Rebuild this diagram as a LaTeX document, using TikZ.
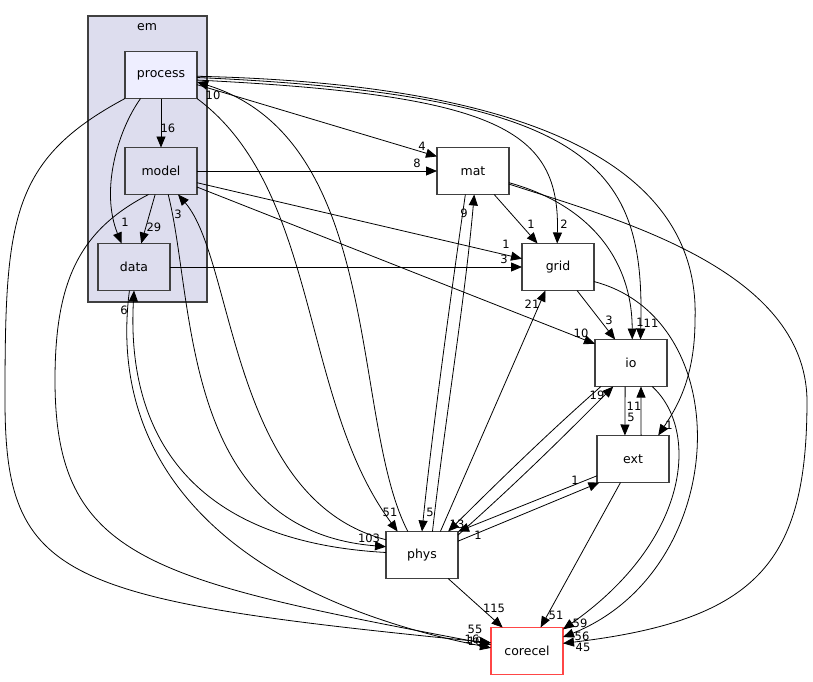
\documentclass[tikz,border=0pt]{standalone}
\usepackage{fontspec}
\setmainfont{DejaVu Sans}
\usepackage{tikz}
\usetikzlibrary{arrows.meta}
\definecolor{dxLine}   {RGB}{ 64, 64, 64}
\definecolor{dxCluster}{RGB}{221,221,238}
\definecolor{dxFocus}  {RGB}{238,238,255}
\definecolor{dxRed}    {RGB}{255, 70, 70}

\begin{document}
\begin{tikzpicture}[
  x=1pt,y=-1pt,
  every node/.style={font=\fontsize{12.5}{14}\selectfont},
  dirbox/.style={draw=dxLine,line width=1.2pt,fill=white,minimum width=72pt,
                 minimum height=47pt,inner sep=0pt,outer sep=0pt},
  subdir/.style={dirbox,fill=dxCluster},
  dep/.style={-{Triangle[length=11pt,width=9pt]},line width=0.8pt},
  lbl/.style={inner sep=0pt,font=\fontsize{11.5}{12}\selectfont}
]
\useasboundingbox (0,0) rectangle (813,681);
% cluster em
\node[draw=dxLine,line width=1.2pt,fill=dxCluster,minimum width=119pt,
      minimum height=286pt,inner sep=0pt] (em) at (147.5,159) {};
\node (emtitle) at (147,27) {em};
\node[subdir,fill=dxFocus] (process) at (161,75) {process};
\node[subdir] (model) at (161,171) {model};
\node[subdir] (data) at (134,267) {data};
% other directories
\node[dirbox] (mat) at (473,171) {mat};
\node[dirbox] (grid) at (558,267) {grid};
\node[dirbox] (io) at (631,363) {io};
\node[dirbox] (ext) at (633,459) {ext};
\node[dirbox] (phys) at (422,555) {phys};
\node[dirbox,draw=dxRed] (corecel) at (527,651) {corecel};
% inside em
\draw[dep] (process.south) -- (model.north) node[lbl] (l1) at (168,128) {16};
\draw[dep] (process.-131) .. controls (118,130) and (100,190) .. (data.118)
  node[lbl] (l2) at (125,222) {1};
\draw[dep] (model.-104) -- (data.73) node[lbl] (l3) at (154,227) {29};
% from process
\draw[dep] (process.-15.5) -- (mat.158.7) node[lbl] (l4) at (422,146) {4};
\draw[dep] (process.-8) .. controls (500,95) and (560,130) .. (grid.92)
  node[lbl] (l5) at (564,224) {2};
\draw[dep] (process.-4.8) .. controls (600,95) and (645,170) .. (io.68.6)
  node[lbl] (l6) at (651,323) {11};
\draw[dep] (process.-2) .. controls (580,85) and (700,190) .. (695,320)
  .. controls (695,380) and (675,410) .. (ext.43.8) node[lbl] (l7) at (669,425) {1};
\draw[dep] (process.south east) .. controls (320,190) and (300,400) .. (phys.136)
  node[lbl] (l8) at (390,512) {51};
\draw[dep] (process.south west) .. controls (10,160) and (5,220) .. (5,400)
  .. controls (5,580) and (60,600) .. (corecel.167.5) node[lbl] (l9) at (475,629) {55};
% from model
\draw[dep] (model.east) -- (mat.west) node[lbl] (l10) at (417,163) {8};
\draw[dep] (model.-18.4) -- (grid.167.5) node[lbl] (l11) at (506,244) {1};
\draw[dep] (model.-24) -- (io.152.8) node[lbl] (l12) at (581,333) {10};
\draw[dep] (model.-73.7) .. controls (195,300) and (180,530) .. (phys.167)
  node[lbl] (l13) at (369,538) {103};
\draw[dep] (model.-118.4) .. controls (80,230) and (55,280) .. (55,380)
  .. controls (55,560) and (150,580) .. (corecel.170.5) node[lbl] (l14) at (472,639) {16};
% from data
\draw[dep] (data.east) -- (grid.west) node[lbl] (l15) at (504,259) {3};
\draw[dep] (data.-101.8) .. controls (105,480) and (250,600) .. (corecel.175)
  node[lbl] (l16) at (475,641) {10};
% from mat
\draw[dep] (mat.-48.8) -- (grid.131) node[lbl] (l17) at (531,224) {1};
\draw[dep] (mat.-18.4) .. controls (590,205) and (632,260) .. (io.87.5)
  node[lbl] (l18) at (640,322) {1};
\draw[dep] (mat.-108) .. controls (450,300) and (430,450) .. (phys.north)
  node[lbl] (l19) at (430,512) {5};
\draw[dep] (mat.-20) .. controls (620,220) and (805,270) .. (807,400)
  .. controls (807,560) and (760,620) .. (corecel.12.5) node[lbl] (l20) at (583,647) {45};
% from grid
\draw[dep] (grid.-51.6) -- (io.124.8) node[lbl] (l21) at (609,320) {3};
\draw[dep] (grid.-22.6) .. controls (740,320) and (730,570) .. (corecel.21.3)
  node[lbl] (l22) at (582,636) {56};
% from io
\draw[dep] (io.-104) -- (ext.109) node[lbl] (l23) at (631,417) {5};
\draw[dep] (io.-142) .. controls (540,440) and (480,500) .. (phys.42.6)
  node[lbl] (l24) at (457,524) {13};
\draw[dep] (io.-48.8) .. controls (700,430) and (690,540) .. (corecel.31.4)
  node[lbl] (l25) at (580,623) {59};
% from ext
\draw[dep] (ext.71) -- (io.-67.4) node[lbl] (l26) at (634,406) {11};
\draw[dep] (ext.-155.4) -- (phys.north east) node[lbl] (l27) at (478,535) {1};
\draw[dep] (ext.-118.4) -- (corecel.60.5) node[lbl] (l28) at (556,615) {51};
% from phys
\draw[dep] (phys.121) .. controls (350,420) and (385,140) .. (process.-11)
  node[lbl] (l29) at (213,95) {10};
\draw[dep] (phys.157) .. controls (230,500) and (235,260) .. (model.-54.7)
  node[lbl] (l30) at (178,214) {3};
\draw[dep] (phys.176.7) .. controls (160,540) and (128,400) .. (data.south)
  node[lbl] (l31) at (124,310) {6};
\draw[dep] (phys.66.5) .. controls (445,420) and (465,300) .. (mat.-87.6)
  node[lbl] (l32) at (464,213) {9};
\draw[dep] (phys.52) -- (grid.-118.4) node[lbl] (l33) at (532,304) {21};
\draw[dep] (phys.29) .. controls (520,480) and (570,430) .. (io.-127)
  node[lbl] (l34) at (597,395) {19};
\draw[dep] (phys.21) -- (ext.-145.6) node[lbl] (l35) at (575,480) {1};
\draw[dep] (phys.-42.7) -- (corecel.136) node[lbl] (l36) at (494,608) {115};
\end{tikzpicture}
\end{document}
